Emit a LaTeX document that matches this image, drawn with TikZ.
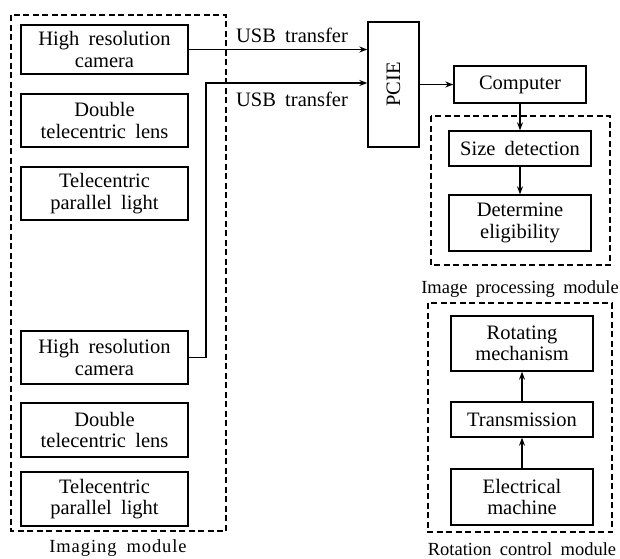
\documentclass[tikz,border=0pt]{standalone}
\usepackage{fontspec}
\setmainfont{Liberation Serif}[WordSpace=1.8]
\usetikzlibrary{arrows.meta}
\begin{document}
\begin{tikzpicture}[x=1pt,y=-1pt,
  box/.style={draw,line width=1.4pt,rectangle,inner sep=0pt,align=center,font=\fontsize{20.5}{21.5}\selectfont},
  grp/.style={draw,line width=1.2pt,dash pattern=on 6pt off 3.5pt},
  lbl/.style={font=\fontsize{20.5}{22}\selectfont,inner sep=0pt},
  modlbl/.style={font=\fontsize{18.5}{22}\selectfont,inner sep=0pt},
  arr/.style={line width=1.2pt,-{Stealth[length=8pt,width=6pt]}},
  ln/.style={line width=1.2pt}]
\useasboundingbox (0,0) rectangle (620,558);
% groups
\draw[grp] (11,15) rectangle (226,531);
\draw[grp] (431,116) rectangle (610,265);
\draw[grp] (428,303) rectangle (612,532);
% imaging module boxes
\node[box,minimum width=167pt,minimum height=49pt] (c1) at (104.5,49.5) {High resolution\\camera};
\node[box,minimum width=167pt,minimum height=53pt] (l1) at (104.5,120.5) {Double\\telecentric lens};
\node[box,minimum width=167pt,minimum height=53pt] (p1) at (104.5,193.5) {Telecentric\\parallel light};
\node[box,minimum width=167pt,minimum height=53pt] (c2) at (104.5,357.5) {High resolution\\camera};
\node[box,minimum width=167pt,minimum height=54pt] (l2) at (104.5,430) {Double\\telecentric lens};
\node[box,minimum width=167pt,minimum height=54pt] (p2) at (104.5,499) {Telecentric\\parallel light};
% PCIE
\node[box,minimum width=51pt,minimum height=125pt] (pcie) at (393.5,84.5) {};
\node[lbl,rotate=90] (pcielbl) at (pcie.center) {PCIE};
% computer & processing
\node[box,minimum width=132pt,minimum height=37pt] (comp) at (520,84.5) {Computer};
\node[box,minimum width=142pt,minimum height=35pt] (size) at (520,148.5) {Size detection};
\node[box,minimum width=142pt,minimum height=56pt] (det) at (520,223) {Determine\\eligibility};
% rotation
\node[box,minimum width=142pt,minimum height=55pt] (rot) at (522,343.5) {Rotating\\mechanism};
\node[box,minimum width=142pt,minimum height=35pt] (trans) at (522,419.5) {Transmission};
\node[box,minimum width=142pt,minimum height=56pt] (elec) at (522,497) {Electrical\\machine};
% labels
\node[lbl] (usb1) at (292,35) {USB transfer};
\node[lbl] (usb2) at (292,99) {USB transfer};
\node[modlbl] (imgmod) at (118,548.5) {\addfontfeatures{LetterSpace=5}Imaging module};
\node[modlbl] (ipmod) at (520,289) {Image processing module};
\node[modlbl] (rotmod) at (522,549) {Rotation control module};
% connectors
\coordinate (k1) at (206,357.5);
\coordinate (k2) at (206,83);
\draw[arr] (c1.east) -- (c1.east -| pcie.west);
\draw[arr] (c2.east) -- (k1) -- (k2) -- (k2 -| pcie.west);
\draw[arr] (pcie.east |- comp.west) -- (comp.west);
\draw[arr] (comp.south) -- (size.north);
\draw[arr] (size.south) -- (det.north);
\draw[arr] (elec.north) -- (trans.south);
\draw[arr] (trans.north) -- (rot.south);
\end{tikzpicture}
\end{document}
